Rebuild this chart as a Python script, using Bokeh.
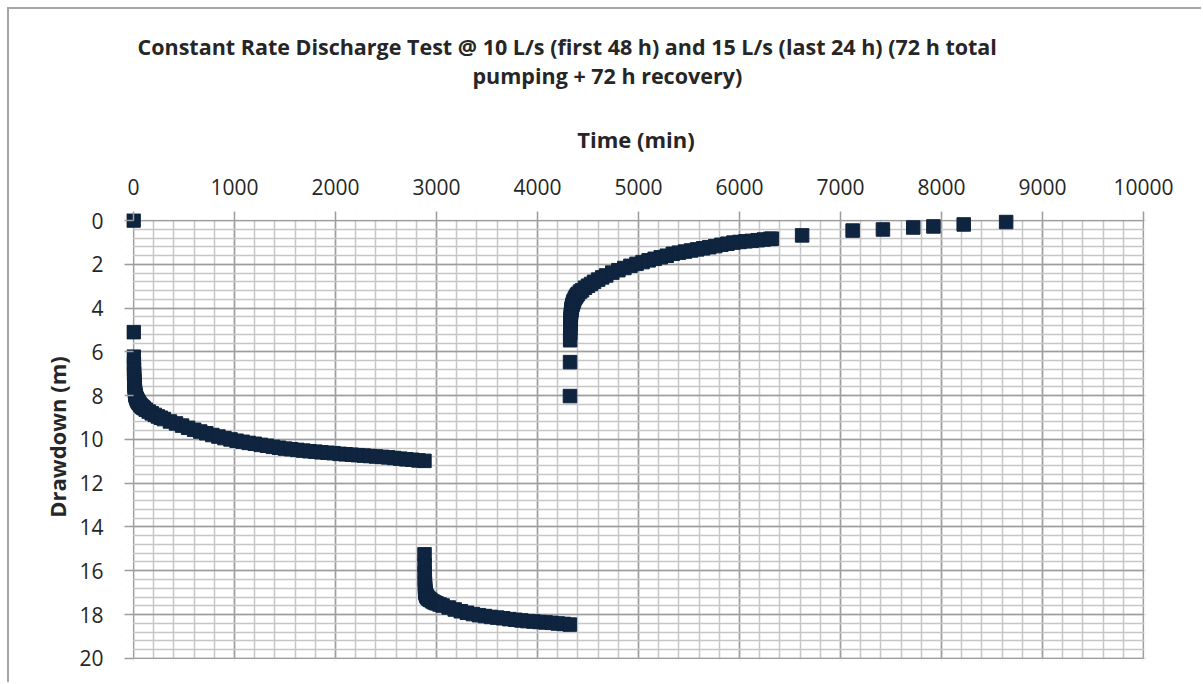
from bokeh.plotting import figure
from bokeh.models import Range1d, FixedTicker, Title, BoxAnnotation, LinearAxis
from bokeh.embed import file_html
from bokeh.resources import INLINE

# Pumping phase 1: 10 L/s for the first 48 h (time in min, drawdown in m)
t_pump1 = [0, 1, 2, 3, 4, 5, 6, 7, 8, 9, 10, 12, 14, 16, 18, 20, 25, 30, 35, 40,
           45, 50, 60, 70, 80, 90, 100, 120, 150, 180, 210, 240, 270, 300, 360,
           420, 480, 540, 600, 660, 720, 780, 840, 900, 960, 1020, 1080, 1140,
           1200, 1260, 1320, 1380, 1440, 1500, 1560, 1620, 1680, 1740, 1800,
           1860, 1920, 1980, 2040, 2100, 2160, 2220, 2280, 2340, 2400, 2460,
           2520, 2580, 2640, 2700, 2760, 2820, 2880]
s_pump1 = [0.00, 5.10, 6.22, 6.55, 6.80, 7.00, 7.15, 7.28, 7.40, 7.50, 7.58, 7.70,
           7.80, 7.88, 7.95, 8.00, 8.08, 8.14, 8.19, 8.24, 8.28, 8.32, 8.38, 8.44,
           8.49, 8.53, 8.57, 8.64, 8.73, 8.81, 8.88, 8.95, 9.01, 9.07, 9.18, 9.27,
           9.37, 9.47, 9.56, 9.64, 9.72, 9.80, 9.87, 9.94, 10.00, 10.06, 10.11,
           10.16, 10.20, 10.25, 10.29, 10.34, 10.38, 10.42, 10.45, 10.48, 10.51,
           10.54, 10.56, 10.59, 10.61, 10.63, 10.66, 10.68, 10.70, 10.72, 10.74,
           10.76, 10.78, 10.80, 10.82, 10.85, 10.88, 10.91, 10.93, 10.96, 10.98]

# Pumping phase 2: 15 L/s for the last 24 h
t_pump2 = [2881, 2882, 2883, 2884, 2885, 2886, 2887, 2888, 2890, 2892, 2895, 2900,
           2905, 2910, 2920, 2930, 2940, 2960, 2980, 3000, 3030, 3060, 3120, 3180,
           3240, 3300, 3360, 3420, 3480, 3540, 3600, 3660, 3720, 3780, 3840, 3900,
           3960, 4020, 4080, 4140, 4200, 4260, 4320]
s_pump2 = [15.25, 15.75, 16.10, 16.38, 16.58, 16.72, 16.82, 16.90, 16.98, 17.03,
           17.09, 17.15, 17.19, 17.22, 17.27, 17.31, 17.34, 17.40, 17.45, 17.49,
           17.54, 17.59, 17.68, 17.77, 17.85, 17.92, 17.98, 18.03, 18.07, 18.11,
           18.14, 18.17, 18.21, 18.24, 18.27, 18.30, 18.32, 18.34, 18.36, 18.38,
           18.41, 18.43, 18.46]

# Recovery (residual drawdown after the pump was switched off at 4320 min)
t_recov = [4321, 4322, 4323, 4324, 4325, 4326, 4327, 4328, 4329, 4330, 4332, 4334,
           4336, 4338, 4340, 4345, 4350, 4355, 4360, 4370, 4380, 4390, 4400, 4420,
           4440, 4470, 4500, 4530, 4560, 4600, 4640, 4680, 4740, 4800, 4860, 4920,
           4980, 5040, 5100, 5160, 5220, 5280, 5340, 5400, 5460, 5520, 5580, 5640,
           5700, 5760, 5820, 5880, 5940, 6000, 6060, 6120, 6180, 6240, 6300, 6320,
           6620, 7120, 7420, 7720, 7920, 8220, 8640]
s_recov = [8.02, 6.47, 5.47, 5.15, 4.92, 4.74, 4.60, 4.49, 4.40, 4.33, 4.22, 4.14,
           4.07, 4.02, 3.97, 3.87, 3.79, 3.72, 3.66, 3.56, 3.48, 3.41, 3.35, 3.25,
           3.19, 3.07, 2.98, 2.90, 2.80, 2.70, 2.60, 2.51, 2.38, 2.27, 2.17, 2.07,
           1.98, 1.90, 1.82, 1.75, 1.68, 1.61, 1.52, 1.47, 1.42, 1.37, 1.32, 1.27,
           1.22, 1.17, 1.11, 1.06, 1.01, 0.98, 0.95, 0.93, 0.90, 0.87, 0.84, 0.83,
           0.68, 0.46, 0.41, 0.32, 0.27, 0.18, 0.07]

x_ticks = list(range(0, 10001, 1000))
y_ticks = list(range(0, 21, 2))

title_lines = [
    "Constant Rate Discharge Test @ 10 L/s (first 48 h) and 15 L/s (last 24 h) (72 h total",
    "pumping + 72 h recovery)",
]

FONT = "Open Sans"
TEXT = "#262626"
MAJOR = "#9d9d9d"
MINOR = "#c6c6c6"
MARK = "#0f243e"
WHITE = "white"

# ranges extend a few pixels past the grid so the square markers at t = 0
# and drawdown = 0 are drawn whole
p = figure(width=1194, height=675, output_backend="svg", toolbar_location=None,
           x_range=Range1d(-70, 10020), y_range=Range1d(20.1, -0.32),
           x_axis_location="above",
           min_border_left=117, min_border_right=58,
           min_border_top=204, min_border_bottom=24,
           margin=(7, 0, 0, 7))
p.styles = {"border-top": "2px solid #a6a6a6", "border-left": "2px solid #a6a6a6"}
p.background_fill_color = WHITE
p.border_fill_color = WHITE
p.outline_line_color = None

xt = FixedTicker(ticks=x_ticks, minor_ticks=list(range(0, 10001, 200)))
yt = FixedTicker(ticks=y_ticks, minor_ticks=[i * 0.4 for i in range(51)])
p.xaxis.ticker = xt
p.yaxis.ticker = yt
p.xgrid.ticker = xt
p.ygrid.ticker = yt
p.xgrid.bounds = (0, 10000)
p.ygrid.bounds = (0, 20)
p.xaxis.bounds = (0, 10000)
p.yaxis.bounds = (0, 20)

for g in (p.xgrid, p.ygrid):
    g.grid_line_color = MAJOR
    g.grid_line_width = 1.5
    g.minor_grid_line_color = MINOR
    g.minor_grid_line_width = 1.5

# white strips hide the grid lines where the ranges run past the grid
for kw in (dict(right=-8), dict(left=10008), dict(bottom=-0.035), dict(top=20.035)):
    p.add_layout(BoxAnnotation(fill_color=WHITE, fill_alpha=1, line_alpha=0,
                               level="underlay", **kw))

for ax in (p.xaxis, p.yaxis):
    ax.axis_line_color = None
    ax.major_tick_line_color = MAJOR
    ax.major_tick_line_width = 1.5
    ax.major_tick_in = 7
    ax.major_tick_out = 2
    ax.minor_tick_in = 0
    ax.minor_tick_out = 0
    ax.major_label_text_font = FONT
    ax.major_label_text_font_size = "21px"
    ax.major_label_text_color = TEXT
    ax.axis_label_text_font = FONT
    ax.axis_label_text_font_size = "22px"
    ax.axis_label_text_font_style = "bold"
    ax.axis_label_text_color = TEXT

p.xaxis.axis_label = "Time (min)"
p.yaxis.axis_label = "Drawdown (m)"
p.xaxis.major_label_standoff = 17
p.yaxis.major_label_standoff = 21
p.xaxis.axis_label_standoff = 22
p.yaxis.axis_label_standoff = 4

for tx, sy in ((t_pump1, s_pump1), (t_pump2, s_pump2), (t_recov, s_recov)):
    p.scatter(tx, sy, marker="square", size=13.5, fill_color=MARK, line_color=MARK)

# blank axis used only as vertical space between the time axis and the title
# (a single white tick with an empty label gives it its height)
gap = LinearAxis(ticker=FixedTicker(ticks=[0]), axis_line_color=None,
                 major_tick_in=0, major_tick_out=29, minor_tick_in=0,
                 minor_tick_out=0, major_tick_line_color=WHITE,
                 minor_tick_line_color=None, major_label_overrides={0: ""},
                 major_label_standoff=0, major_label_text_font_size="1px")
p.add_layout(gap, "above")

# two-line chart title, stacked above the gap (nearest line added first)
for line, off, va in ((title_lines[1], 346, "top"), (title_lines[0], 11, "bottom")):
    p.add_layout(Title(text=line, align="left", offset=off, standoff=0,
                       vertical_align=va, text_font=FONT, text_font_style="bold",
                       text_font_size="21.5px", text_color=TEXT), "above")

open("out.html", "w").write(file_html(p, INLINE))
